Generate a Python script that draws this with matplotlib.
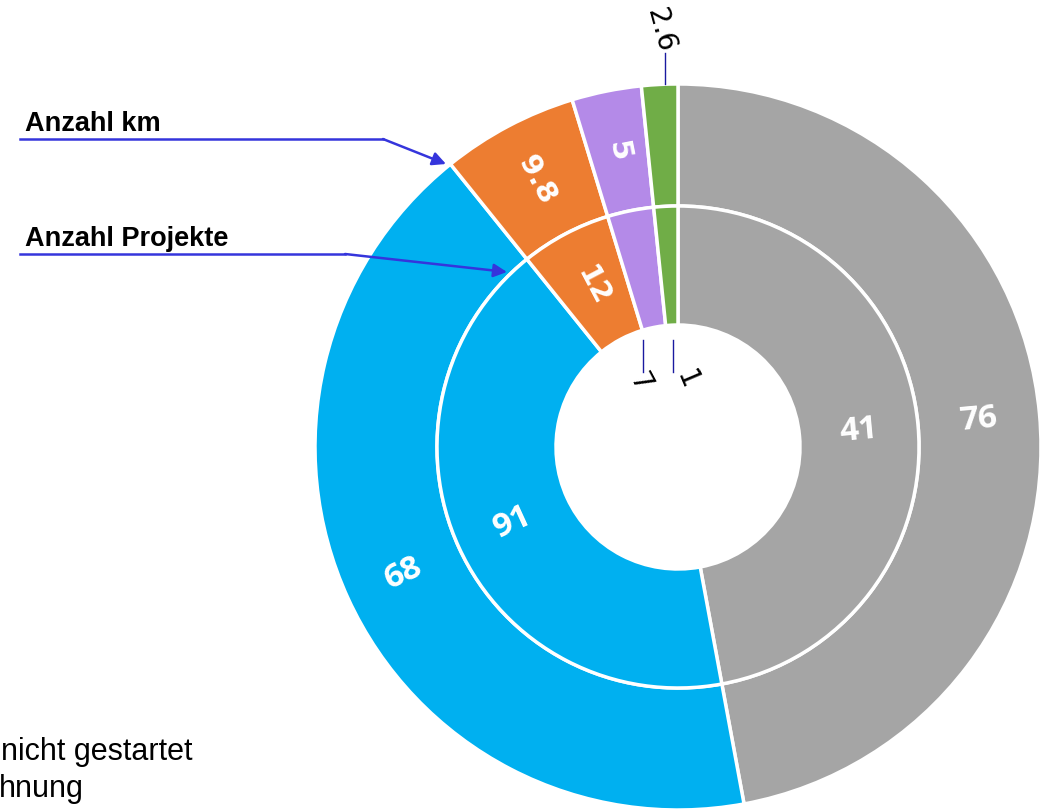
import numpy as np
import matplotlib
matplotlib.use("Agg")
import matplotlib.pyplot as plt
from matplotlib.lines import Line2D

# Werte (Reihenfolge im Uhrzeigersinn ab 12 Uhr)
km_werte = [76, 68, 9.8, 5, 2.6]
km_labels = ['76', '68', '9.8', '5', '2.6']
projekt_labels = ['41', '91', '12', '7', '1']
farben = ['#A5A5A5', '#00B0F0', '#ED7D31', '#B48AE8', '#70AD47']

W, H = 1051, 811
fig = plt.figure(figsize=(W / 100, H / 100), dpi=100)


def fpx(x, y):
    # Pixel (von oben links) -> Figure-Koordinaten
    return x / W, 1 - y / H


# Achse so legen, dass Mitte bei (678, 447) px und Radius 363 px
cx, cy, R = 678, 447, 363
L = 1.2
side = 2 * L * R
ax = fig.add_axes([(cx - side / 2) / W, (H - cy - side / 2) / H, side / W, side / H])

r_in = 122 / R
r_mid = 241 / R
wp = dict(edgecolor='white', linewidth=2.5)

outer, _ = ax.pie(km_werte, radius=1.0, colors=farben, startangle=90, counterclock=False,
                  wedgeprops=dict(width=1 - r_mid, **wp))
inner, _ = ax.pie(km_werte, radius=r_mid, colors=farben, startangle=90, counterclock=False,
                  wedgeprops=dict(width=r_mid - r_in, **wp))
ax.set_xlim(-L, L)
ax.set_ylim(-L, L)
ax.axis('off')


def rot(a):
    a = a % 360
    if 90 < a < 270:
        a -= 180
    return a if a <= 180 else a - 360


bold = dict(family='Open Sans', fontweight='bold', fontsize=24, color='white')
thin = dict(family='DejaVu Sans', fontweight='bold', fontsize=21, color='white')

# Aeusserer Ring: km
for i, w in enumerate(outer):
    if i == 4:
        continue
    a = (w.theta1 + w.theta2) / 2
    rr = (1 + r_mid) / 2
    style = bold if i < 2 else thin
    ax.text(rr * np.cos(np.radians(a)), rr * np.sin(np.radians(a)), km_labels[i],
            rotation=rot(a), ha='center', va='center', rotation_mode='anchor', **style)

# Innerer Ring: Projekte
for i, w in enumerate(inner):
    if i > 2:
        continue
    a = (w.theta1 + w.theta2) / 2
    rr = (r_mid + r_in) / 2
    style = bold if i < 2 else thin
    ax.text(rr * np.cos(np.radians(a)), rr * np.sin(np.radians(a)), projekt_labels[i],
            rotation=rot(a), ha='center', va='center', rotation_mode='anchor', **style)

leader = '#1a1aa0'
# 2.6 ueber dem Ring
ax.plot([-13 / R, -13 / R], [1.0, 394 / R], color=leader, lw=1)
ax.text(-18 / R, 417 / R, km_labels[4], rotation=-75, ha='center', va='center',
        rotation_mode='anchor', fontsize=20, color='black')
# 7 und 1 im Loch
ax.plot([-35 / R, -35 / R], [107 / R, 75 / R], color=leader, lw=1)
ax.plot([-5 / R, -5 / R], [107 / R, 75 / R], color=leader, lw=1)
ax.text(-38 / R, 64 / R, projekt_labels[3], rotation=-62, ha='center', va='center',
        rotation_mode='anchor', fontsize=20, color='black')
ax.text(9 / R, 67 / R, projekt_labels[4], rotation=-67, ha='center', va='center',
        rotation_mode='anchor', fontsize=20, color='black')

# Beschriftungen mit Pfeilen
pfeil = '#3535DC'
fig.text(*fpx(25, 131), 'Anzahl km', family='Liberation Sans', fontweight='bold',
         fontsize=19.5, color='black')
fig.add_artist(Line2D([fpx(20, 0)[0], fpx(383, 0)[0]], [fpx(0, 139)[1]] * 2,
                      transform=fig.transFigure, color=pfeil, lw=1.8))
fig.add_artist(matplotlib.patches.FancyArrowPatch(fpx(383, 139), fpx(446, 164),
               transform=fig.transFigure, arrowstyle='-|>', mutation_scale=20,
               color=pfeil, lw=1.8, shrinkA=0, shrinkB=0))

fig.text(*fpx(25, 246), 'Anzahl Projekte', family='Liberation Sans', fontweight='bold',
         fontsize=19.5, color='black')
fig.add_artist(Line2D([fpx(20, 0)[0], fpx(345, 0)[0]], [fpx(0, 254)[1]] * 2,
                      transform=fig.transFigure, color=pfeil, lw=1.8))
fig.add_artist(matplotlib.patches.FancyArrowPatch(fpx(345, 254), fpx(507, 272),
               transform=fig.transFigure, arrowstyle='-|>', mutation_scale=20,
               color=pfeil, lw=1.8, shrinkA=0, shrinkB=0))

# abgeschnittene Legende unten links
fig.text(*fpx(1, 760), 'nicht gestartet', family='Liberation Sans', fontsize=22, color='black')
fig.text(*fpx(-1, 797), 'hnung', family='Liberation Sans', fontsize=22, color='black')

fig.savefig('out.png', dpi=100)
